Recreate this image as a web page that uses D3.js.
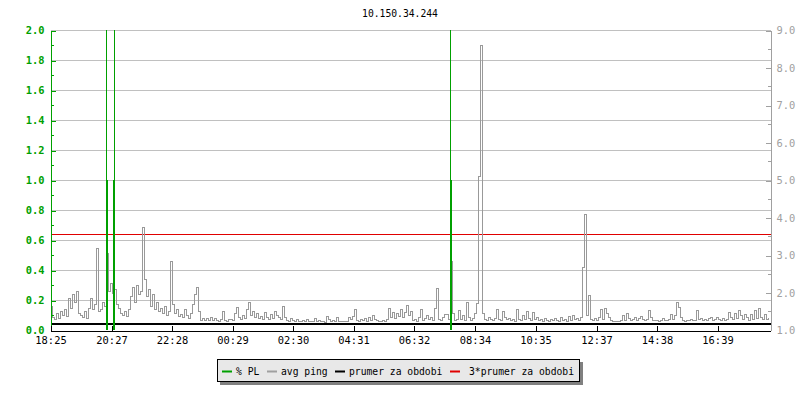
<!DOCTYPE html>
<html><head><meta charset="utf-8">
<script src="https://cdn.jsdelivr.net/npm/d3@7"></script>
<style>body{margin:0;background:#fff} svg{display:block}</style>
</head><body>
<svg id="chart" width="800" height="400"></svg>
<script>
// ---------------- data ----------------
const chartTitle = "10.150.34.244";
const startLabel = "18:25";
const spanMinutes = 1440;
const sampleMinutes = 4;
const tickLabels = ["18:25","20:27","22:28","00:29","02:30","04:31","06:32","08:34","10:35","12:37","14:38","16:39"];
const leftTicks = [0,0.2,0.4,0.6,0.8,1.0,1.2,1.4,1.6,1.8,2.0];
const rightTicks = [1,2,3,4,5,6,7,8,9];
// avg ping (ms), one sample every 4 minutes
const pingValues = [
1.65,1.35,1.30,1.45,1.32,1.50,1.40,1.55,1.38,1.85,1.60,1.95,1.75,2.05,1.45,1.40,1.35,1.50,1.33,1.60,
1.85,1.55,1.70,3.20,1.50,1.55,1.75,1.65,3.05,2.05,2.25,2.00,2.10,1.70,1.60,1.45,1.40,1.50,1.38,1.55,
1.90,2.15,1.75,2.20,1.95,2.05,3.75,2.35,1.90,2.10,1.65,1.95,1.55,1.75,1.50,1.60,1.45,1.65,1.40,1.50,
2.85,1.70,1.45,1.55,1.38,1.42,1.35,1.55,1.40,1.33,1.45,1.70,1.95,2.15,1.50,1.28,1.32,1.27,1.33,1.28,
1.35,1.27,1.32,1.28,1.25,1.30,1.50,1.28,1.25,1.30,
1.30,1.27,1.45,1.62,1.35,1.30,1.40,1.33,1.55,1.75,1.40,1.50,1.35,1.45,1.32,1.38,1.30,1.48,1.35,1.30,
1.42,1.33,1.50,1.40,1.36,1.30,1.64,1.35,1.27,1.25,1.33,1.26,1.25,1.30,1.25,1.24,1.27,1.25,1.29,1.24,
1.24,1.25,1.32,1.24,1.26,1.24,1.24,1.22,1.38,1.30,1.25,1.27,1.24,1.34,1.24,1.24,1.24,1.25,1.24,1.36,
1.30,1.38,1.56,1.28,1.25,1.30,1.27,1.33,1.25,1.36,1.28,1.40,1.30,1.27,1.24,1.25,1.27,1.24,1.30,1.58,
1.35,1.48,1.32,1.45,1.38,1.55,1.35,1.47,1.67,1.40,
1.50,1.27,1.30,1.25,1.35,1.55,1.28,1.33,1.40,1.30,1.36,1.28,1.58,2.12,1.30,1.27,1.35,1.42,1.44,1.30,
2.85,1.45,1.27,1.30,1.53,1.30,1.40,1.28,1.76,1.35,1.27,1.32,1.45,1.71,5.10,8.60,1.45,1.30,1.27,1.36,
1.30,1.27,1.33,1.55,1.30,1.27,1.50,1.36,1.30,1.33,1.27,1.30,1.25,1.55,1.30,1.28,1.40,1.30,1.50,1.33,
1.28,1.48,1.30,1.36,1.27,1.30,1.25,1.32,1.27,1.24,1.30,1.27,1.33,1.28,1.25,1.35,1.27,1.30,1.25,1.38,
1.28,1.40,1.30,1.33,1.28,1.35,2.69,4.10,1.40,1.93,
1.30,1.27,1.33,1.28,1.35,1.55,1.30,1.58,1.45,1.36,1.27,1.25,1.24,1.25,1.24,1.26,1.40,1.27,1.45,1.33,
1.28,1.30,1.36,1.28,1.32,1.38,1.30,1.27,1.30,1.53,1.35,1.28,1.27,1.26,1.25,1.28,1.33,1.27,1.26,1.30,
1.42,1.30,1.40,1.76,1.62,1.35,1.27,1.25,1.28,1.27,1.30,1.26,1.27,1.53,1.30,1.33,1.28,1.30,1.27,1.33,
1.36,1.28,1.30,1.35,1.29,1.28,1.33,1.27,1.30,1.49,1.35,1.30,1.46,1.33,1.53,1.40,1.30,1.44,1.35,1.28,
1.42,1.30,1.53,1.33,1.58,1.36,1.30,1.44,1.30,1.36
];
// packet loss (%) events: minute offset from start, value
const plMinutes = [112,114,126,128,800,802];
const plValues  = [2,1,1,2,2,1];
const meanPing = 1.19;
const legendLabels = ["% PL","avg ping","prumer za obdobi","3*prumer za obdobi"];
const legendColors = ["#00a000","#a0a0a0","#000000","#e00000"];

// ---------------- chart ----------------
const svg = d3.select("#chart");
const L = 50, R = 770, T = 30, B = 330;
const FONT = "'DejaVu Sans Mono', monospace";
const green = "#00a000", grey = "#999999", red = "#e00000";

const [sh, sm] = startLabel.split(":").map(Number);
const t0 = new Date(2024, 0, 1, sh, sm);
const x = d3.scaleTime().domain([t0, d3.timeMinute.offset(t0, spanMinutes)]).range([L, R]);
const yL = d3.scaleLinear().domain([0, 2]).range([B, T]);
const yR = d3.scaleLinear().domain([1, 9]).range([B, T]);

const tickTimes = tickLabels.map(s => {
  const [h, m] = s.split(":").map(Number);
  let d = new Date(2024, 0, 1, h, m);
  if (d < t0) d = d3.timeDay.offset(d, 1);
  return d;
});

const g = svg.append("g").attr("transform", "translate(0.5,0.5)");

// title
svg.append("text").attr("x", 400).attr("y", 17).attr("text-anchor", "middle")
  .attr("font-family", FONT).attr("font-size", "9.7px").attr("fill", "#000").text(chartTitle);

// grid
g.append("g").selectAll("line").data(leftTicks.filter(v => v > 0)).join("line")
  .attr("x1", L).attr("x2", R).attr("y1", d => Math.round(yL(d))).attr("y2", d => Math.round(yL(d)))
  .attr("stroke", "#c0c0c0").attr("shape-rendering", "crispEdges");

// mean lines
g.append("line").attr("x1", L).attr("x2", R)
  .attr("y1", Math.round(yR(meanPing))).attr("y2", Math.round(yR(meanPing)))
  .attr("stroke", "#000").attr("stroke-width", 2).attr("shape-rendering", "crispEdges");
g.append("line").attr("x1", L).attr("x2", R)
  .attr("y1", Math.round(yR(3 * meanPing))).attr("y2", Math.round(yR(3 * meanPing)))
  .attr("stroke", red).attr("shape-rendering", "crispEdges");

// packet loss bars
svg.append("g").selectAll("rect").data(plMinutes.map((m, i) => ({m, v: plValues[i]}))).join("rect")
  .attr("x", d => x(d3.timeMinute.offset(t0, d.m)))
  .attr("width", d => x(d3.timeMinute.offset(t0, d.m + 2)) - x(d3.timeMinute.offset(t0, d.m)))
  .attr("y", d => yL(d.v)).attr("height", d => yL(0) - yL(d.v))
  .attr("fill", green).attr("shape-rendering", "crispEdges");

// avg ping line
const pingData = pingValues.map((v, i) => ({t: d3.timeMinute.offset(t0, i * sampleMinutes), v}));
g.append("path").datum(pingData)
  .attr("d", d3.line().x(d => Math.round(x(d.t))).y(d => Math.round(yR(d.v))).curve(d3.curveStepAfter))
  .attr("fill", "none").attr("stroke", grey).attr("stroke-width", 1).attr("shape-rendering", "crispEdges");

// left axis
const ax1 = g.append("g").attr("transform", `translate(${L},0)`)
  .call(d3.axisLeft(yL).tickValues(leftTicks).tickFormat(d3.format(".1f")).tickSize(-5).tickSizeOuter(0).tickPadding(6));
ax1.select(".domain").attr("stroke", green).attr("shape-rendering", "crispEdges");
ax1.selectAll(".tick line").attr("stroke", green).attr("shape-rendering", "crispEdges");
ax1.selectAll(".tick text").attr("fill", green).attr("font-family", FONT).attr("font-size", "10.4px").attr("font-weight", "bold");
g.append("g").selectAll("line").data(d3.range(1, 20, 2).map(k => k / 10)).join("line")
  .attr("x1", L).attr("x2", L + 3).attr("y1", d => Math.round(yL(d))).attr("y2", d => Math.round(yL(d)))
  .attr("stroke", green).attr("shape-rendering", "crispEdges");

// right axis
const ax2 = g.append("g").attr("transform", `translate(${R},0)`)
  .call(d3.axisRight(yR).tickValues(rightTicks).tickFormat(d3.format(".1f")).tickSize(-5).tickSizeOuter(0).tickPadding(6));
ax2.select(".domain").attr("stroke", "#a0a0a0").attr("shape-rendering", "crispEdges");
ax2.selectAll(".tick line").attr("stroke", "#a0a0a0").attr("shape-rendering", "crispEdges");
ax2.selectAll(".tick text").attr("fill", "#a0a0a0").attr("font-family", FONT).attr("font-size", "10.4px");
g.append("g").selectAll("line").data(d3.range(1.5, 9, 1)).join("line")
  .attr("x1", R - 3).attr("x2", R).attr("y1", d => Math.round(yR(d))).attr("y2", d => Math.round(yR(d)))
  .attr("stroke", "#a0a0a0").attr("shape-rendering", "crispEdges");

// bottom axis
const ax3 = g.append("g").attr("transform", `translate(0,${B})`)
  .call(d3.axisBottom(x).tickValues(tickTimes).tickFormat((d, i) => tickLabels[i]).tickSize(-5).tickSizeOuter(0).tickPadding(6));
ax3.select(".domain").attr("stroke", "#000").attr("shape-rendering", "crispEdges");
ax3.selectAll(".tick line").attr("stroke", "#000").attr("shape-rendering", "crispEdges");
ax3.selectAll(".tick text").attr("fill", "#000").attr("font-family", FONT).attr("font-size", "10.4px");

// legend
const lg = svg.append("g");
lg.append("rect").attr("x", 220).attr("y", 362).attr("width", 363).attr("height", 23).attr("fill", "#808080");
lg.append("rect").attr("x", 217.5).attr("y", 359.5).attr("width", 362).attr("height", 22)
  .attr("fill", "#e8e8e8").attr("stroke", "#000");
const swatchX = [222, 267, 335, 450];
const textX = [236, 281, 349, 469];
legendLabels.forEach((lab, i) => {
  lg.append("rect").attr("x", swatchX[i]).attr("y", 370.5).attr("width", 10).attr("height", 2).attr("fill", legendColors[i]);
  lg.append("text").attr("x", textX[i]).attr("y", 375).attr("font-family", FONT).attr("font-size", "9.7px")
    .attr("fill", "#000").text(lab);
});
</script>
</body></html>
